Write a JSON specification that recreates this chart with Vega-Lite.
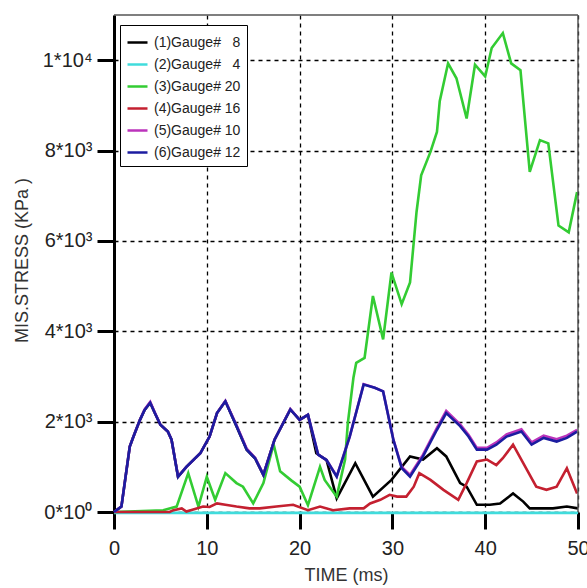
{
  "$schema": "https://vega.github.io/schema/vega-lite/v6.json",
  "width": 464,
  "height": 497,
  "autosize": {"type": "none"},
  "padding": {"left": 114, "top": 15, "right": 9, "bottom": 76},
  "background": "white",
  "config": {"view": {"stroke": null}, "font": "Liberation Sans"},
  "layer": [
    {
      "data": {"values": [
        {"g": "(1)Gauge# \u20078", "t": 0, "v": 0}, {"g": "(1)Gauge# \u20078", "t": 0.8, "v": 120}, {"g": "(1)Gauge# \u20078", "t": 1.2, "v": 710}, {"g": "(1)Gauge# \u20078", "t": 1.7, "v": 1450}, {"g": "(1)Gauge# \u20078", "t": 2.1, "v": 1670}, {"g": "(1)Gauge# \u20078", "t": 2.8, "v": 2040}, {"g": "(1)Gauge# \u20078", "t": 3.3, "v": 2260}, {"g": "(1)Gauge# \u20078", "t": 3.9, "v": 2420}, {"g": "(1)Gauge# \u20078", "t": 4.4, "v": 2190}, {"g": "(1)Gauge# \u20078", "t": 5.0, "v": 1930}, {"g": "(1)Gauge# \u20078", "t": 5.8, "v": 1780}, {"g": "(1)Gauge# \u20078", "t": 6.2, "v": 1600}, {"g": "(1)Gauge# \u20078", "t": 6.9, "v": 780}, {"g": "(1)Gauge# \u20078", "t": 7.8, "v": 1000}, {"g": "(1)Gauge# \u20078", "t": 9.3, "v": 1300}, {"g": "(1)Gauge# \u20078", "t": 10.3, "v": 1670}, {"g": "(1)Gauge# \u20078", "t": 11.1, "v": 2190}, {"g": "(1)Gauge# \u20078", "t": 12.0, "v": 2450}, {"g": "(1)Gauge# \u20078", "t": 13.2, "v": 1900}, {"g": "(1)Gauge# \u20078", "t": 14.3, "v": 1380}, {"g": "(1)Gauge# \u20078", "t": 15.2, "v": 1190}, {"g": "(1)Gauge# \u20078", "t": 16.1, "v": 820}, {"g": "(1)Gauge# \u20078", "t": 17.3, "v": 1600}, {"g": "(1)Gauge# \u20078", "t": 19.0, "v": 2270}, {"g": "(1)Gauge# \u20078", "t": 20.0, "v": 2040}, {"g": "(1)Gauge# \u20078", "t": 20.9, "v": 2150}, {"g": "(1)Gauge# \u20078", "t": 21.8, "v": 1300}, {"g": "(1)Gauge# \u20078", "t": 22.9, "v": 1150}, {"g": "(1)Gauge# \u20078", "t": 24.0, "v": 300}, {"g": "(1)Gauge# \u20078", "t": 26.0, "v": 1080}, {"g": "(1)Gauge# \u20078", "t": 27.9, "v": 340}, {"g": "(1)Gauge# \u20078", "t": 29.9, "v": 710}, {"g": "(1)Gauge# \u20078", "t": 31.9, "v": 1230}, {"g": "(1)Gauge# \u20078", "t": 33.3, "v": 1160}, {"g": "(1)Gauge# \u20078", "t": 34.8, "v": 1410}, {"g": "(1)Gauge# \u20078", "t": 35.8, "v": 1230}, {"g": "(1)Gauge# \u20078", "t": 37.3, "v": 640}, {"g": "(1)Gauge# \u20078", "t": 38.0, "v": 560}, {"g": "(1)Gauge# \u20078", "t": 39.1, "v": 160}, {"g": "(1)Gauge# \u20078", "t": 40.5, "v": 160}, {"g": "(1)Gauge# \u20078", "t": 41.6, "v": 190}, {"g": "(1)Gauge# \u20078", "t": 43.0, "v": 410}, {"g": "(1)Gauge# \u20078", "t": 44.1, "v": 230}, {"g": "(1)Gauge# \u20078", "t": 44.8, "v": 80}, {"g": "(1)Gauge# \u20078", "t": 47.3, "v": 80}, {"g": "(1)Gauge# \u20078", "t": 48.8, "v": 120}, {"g": "(1)Gauge# \u20078", "t": 50, "v": 80},
        {"g": "(2)Gauge# \u20074", "t": 0, "v": -20}, {"g": "(2)Gauge# \u20074", "t": 10, "v": -20}, {"g": "(2)Gauge# \u20074", "t": 20, "v": -20}, {"g": "(2)Gauge# \u20074", "t": 30, "v": -20}, {"g": "(2)Gauge# \u20074", "t": 40, "v": -20}, {"g": "(2)Gauge# \u20074", "t": 50, "v": -20},
        {"g": "(3)Gauge# 20", "t": 0, "v": 0}, {"g": "(3)Gauge# 20", "t": 5.3, "v": 40}, {"g": "(3)Gauge# 20", "t": 6.75, "v": 120}, {"g": "(3)Gauge# 20", "t": 8.0, "v": 860}, {"g": "(3)Gauge# 20", "t": 9.1, "v": 120}, {"g": "(3)Gauge# 20", "t": 10.0, "v": 780}, {"g": "(3)Gauge# 20", "t": 10.9, "v": 270}, {"g": "(3)Gauge# 20", "t": 12.0, "v": 860}, {"g": "(3)Gauge# 20", "t": 13.2, "v": 640}, {"g": "(3)Gauge# 20", "t": 13.9, "v": 560}, {"g": "(3)Gauge# 20", "t": 15.0, "v": 190}, {"g": "(3)Gauge# 20", "t": 16.1, "v": 640}, {"g": "(3)Gauge# 20", "t": 17.2, "v": 1500}, {"g": "(3)Gauge# 20", "t": 17.9, "v": 900}, {"g": "(3)Gauge# 20", "t": 19.1, "v": 700}, {"g": "(3)Gauge# 20", "t": 20.0, "v": 560}, {"g": "(3)Gauge# 20", "t": 20.9, "v": 150}, {"g": "(3)Gauge# 20", "t": 22.2, "v": 1000}, {"g": "(3)Gauge# 20", "t": 22.7, "v": 710}, {"g": "(3)Gauge# 20", "t": 24.0, "v": 340}, {"g": "(3)Gauge# 20", "t": 24.9, "v": 1160}, {"g": "(3)Gauge# 20", "t": 25.2, "v": 1970}, {"g": "(3)Gauge# 20", "t": 25.8, "v": 2970}, {"g": "(3)Gauge# 20", "t": 26.1, "v": 3300}, {"g": "(3)Gauge# 20", "t": 27.0, "v": 3410}, {"g": "(3)Gauge# 20", "t": 27.9, "v": 4780}, {"g": "(3)Gauge# 20", "t": 29.0, "v": 3820}, {"g": "(3)Gauge# 20", "t": 29.9, "v": 5300}, {"g": "(3)Gauge# 20", "t": 31.0, "v": 4600}, {"g": "(3)Gauge# 20", "t": 31.9, "v": 5080}, {"g": "(3)Gauge# 20", "t": 32.6, "v": 6640}, {"g": "(3)Gauge# 20", "t": 33.1, "v": 7450}, {"g": "(3)Gauge# 20", "t": 34.1, "v": 7970}, {"g": "(3)Gauge# 20", "t": 34.8, "v": 8410}, {"g": "(3)Gauge# 20", "t": 35.1, "v": 9090}, {"g": "(3)Gauge# 20", "t": 36.0, "v": 9930}, {"g": "(3)Gauge# 20", "t": 36.9, "v": 9600}, {"g": "(3)Gauge# 20", "t": 38.0, "v": 8710}, {"g": "(3)Gauge# 20", "t": 38.9, "v": 9900}, {"g": "(3)Gauge# 20", "t": 40.0, "v": 9640}, {"g": "(3)Gauge# 20", "t": 40.7, "v": 10270}, {"g": "(3)Gauge# 20", "t": 41.9, "v": 10600}, {"g": "(3)Gauge# 20", "t": 42.8, "v": 9930}, {"g": "(3)Gauge# 20", "t": 43.8, "v": 9780}, {"g": "(3)Gauge# 20", "t": 44.8, "v": 7530}, {"g": "(3)Gauge# 20", "t": 45.9, "v": 8230}, {"g": "(3)Gauge# 20", "t": 46.8, "v": 8160}, {"g": "(3)Gauge# 20", "t": 47.9, "v": 6340}, {"g": "(3)Gauge# 20", "t": 49.0, "v": 6190}, {"g": "(3)Gauge# 20", "t": 49.9, "v": 7080},
        {"g": "(4)Gauge# 16", "t": 0, "v": 0}, {"g": "(4)Gauge# 16", "t": 6.0, "v": 0}, {"g": "(4)Gauge# 16", "t": 6.4, "v": 40}, {"g": "(4)Gauge# 16", "t": 7.3, "v": 80}, {"g": "(4)Gauge# 16", "t": 7.8, "v": 10}, {"g": "(4)Gauge# 16", "t": 8.9, "v": 80}, {"g": "(4)Gauge# 16", "t": 9.6, "v": 120}, {"g": "(4)Gauge# 16", "t": 10.3, "v": 110}, {"g": "(4)Gauge# 16", "t": 11.1, "v": 190}, {"g": "(4)Gauge# 16", "t": 12.0, "v": 160}, {"g": "(4)Gauge# 16", "t": 13.2, "v": 120}, {"g": "(4)Gauge# 16", "t": 14.6, "v": 80}, {"g": "(4)Gauge# 16", "t": 15.7, "v": 80}, {"g": "(4)Gauge# 16", "t": 17.5, "v": 120}, {"g": "(4)Gauge# 16", "t": 19.3, "v": 160}, {"g": "(4)Gauge# 16", "t": 20.9, "v": 40}, {"g": "(4)Gauge# 16", "t": 22.2, "v": 120}, {"g": "(4)Gauge# 16", "t": 23.6, "v": 40}, {"g": "(4)Gauge# 16", "t": 25.4, "v": 80}, {"g": "(4)Gauge# 16", "t": 26.9, "v": 80}, {"g": "(4)Gauge# 16", "t": 27.6, "v": 190}, {"g": "(4)Gauge# 16", "t": 28.7, "v": 270}, {"g": "(4)Gauge# 16", "t": 29.7, "v": 380}, {"g": "(4)Gauge# 16", "t": 30.5, "v": 340}, {"g": "(4)Gauge# 16", "t": 31.5, "v": 340}, {"g": "(4)Gauge# 16", "t": 32.3, "v": 560}, {"g": "(4)Gauge# 16", "t": 32.9, "v": 860}, {"g": "(4)Gauge# 16", "t": 34.1, "v": 710}, {"g": "(4)Gauge# 16", "t": 35.5, "v": 490}, {"g": "(4)Gauge# 16", "t": 37.1, "v": 270}, {"g": "(4)Gauge# 16", "t": 38.0, "v": 640}, {"g": "(4)Gauge# 16", "t": 39.1, "v": 1120}, {"g": "(4)Gauge# 16", "t": 40.2, "v": 1160}, {"g": "(4)Gauge# 16", "t": 41.2, "v": 1040}, {"g": "(4)Gauge# 16", "t": 41.9, "v": 1190}, {"g": "(4)Gauge# 16", "t": 43.0, "v": 1490}, {"g": "(4)Gauge# 16", "t": 44.1, "v": 1080}, {"g": "(4)Gauge# 16", "t": 45.5, "v": 560}, {"g": "(4)Gauge# 16", "t": 46.6, "v": 490}, {"g": "(4)Gauge# 16", "t": 47.7, "v": 560}, {"g": "(4)Gauge# 16", "t": 48.8, "v": 970}, {"g": "(4)Gauge# 16", "t": 49.9, "v": 410},
        {"g": "(5)Gauge# 10", "t": 0, "v": 0}, {"g": "(5)Gauge# 10", "t": 0.8, "v": 120}, {"g": "(5)Gauge# 10", "t": 1.2, "v": 710}, {"g": "(5)Gauge# 10", "t": 1.7, "v": 1450}, {"g": "(5)Gauge# 10", "t": 2.1, "v": 1670}, {"g": "(5)Gauge# 10", "t": 2.8, "v": 2040}, {"g": "(5)Gauge# 10", "t": 3.3, "v": 2270}, {"g": "(5)Gauge# 10", "t": 3.9, "v": 2440}, {"g": "(5)Gauge# 10", "t": 4.4, "v": 2200}, {"g": "(5)Gauge# 10", "t": 5.0, "v": 1930}, {"g": "(5)Gauge# 10", "t": 5.8, "v": 1780}, {"g": "(5)Gauge# 10", "t": 6.2, "v": 1600}, {"g": "(5)Gauge# 10", "t": 6.9, "v": 790}, {"g": "(5)Gauge# 10", "t": 7.8, "v": 1000}, {"g": "(5)Gauge# 10", "t": 9.3, "v": 1300}, {"g": "(5)Gauge# 10", "t": 10.3, "v": 1670}, {"g": "(5)Gauge# 10", "t": 11.1, "v": 2190}, {"g": "(5)Gauge# 10", "t": 12.0, "v": 2460}, {"g": "(5)Gauge# 10", "t": 13.2, "v": 1920}, {"g": "(5)Gauge# 10", "t": 14.3, "v": 1400}, {"g": "(5)Gauge# 10", "t": 15.2, "v": 1200}, {"g": "(5)Gauge# 10", "t": 16.1, "v": 830}, {"g": "(5)Gauge# 10", "t": 17.3, "v": 1600}, {"g": "(5)Gauge# 10", "t": 19.0, "v": 2280}, {"g": "(5)Gauge# 10", "t": 20.0, "v": 2040}, {"g": "(5)Gauge# 10", "t": 20.9, "v": 2150}, {"g": "(5)Gauge# 10", "t": 22.0, "v": 1270}, {"g": "(5)Gauge# 10", "t": 22.9, "v": 1150}, {"g": "(5)Gauge# 10", "t": 24.0, "v": 790}, {"g": "(5)Gauge# 10", "t": 25.4, "v": 1670}, {"g": "(5)Gauge# 10", "t": 26.9, "v": 2830}, {"g": "(5)Gauge# 10", "t": 28.1, "v": 2750}, {"g": "(5)Gauge# 10", "t": 29.0, "v": 2670}, {"g": "(5)Gauge# 10", "t": 30.1, "v": 1610}, {"g": "(5)Gauge# 10", "t": 31.0, "v": 1000}, {"g": "(5)Gauge# 10", "t": 31.9, "v": 820}, {"g": "(5)Gauge# 10", "t": 33.3, "v": 1270}, {"g": "(5)Gauge# 10", "t": 34.8, "v": 1860}, {"g": "(5)Gauge# 10", "t": 35.8, "v": 2240}, {"g": "(5)Gauge# 10", "t": 37.3, "v": 1940}, {"g": "(5)Gauge# 10", "t": 38.2, "v": 1710}, {"g": "(5)Gauge# 10", "t": 39.1, "v": 1420}, {"g": "(5)Gauge# 10", "t": 40.2, "v": 1420}, {"g": "(5)Gauge# 10", "t": 41.2, "v": 1540}, {"g": "(5)Gauge# 10", "t": 42.3, "v": 1720}, {"g": "(5)Gauge# 10", "t": 43.9, "v": 1830}, {"g": "(5)Gauge# 10", "t": 45.0, "v": 1540}, {"g": "(5)Gauge# 10", "t": 46.3, "v": 1690}, {"g": "(5)Gauge# 10", "t": 47.7, "v": 1610}, {"g": "(5)Gauge# 10", "t": 48.8, "v": 1690}, {"g": "(5)Gauge# 10", "t": 49.9, "v": 1820},
        {"g": "(6)Gauge# 12", "t": 0, "v": 0}, {"g": "(6)Gauge# 12", "t": 0.8, "v": 120}, {"g": "(6)Gauge# 12", "t": 1.2, "v": 710}, {"g": "(6)Gauge# 12", "t": 1.7, "v": 1450}, {"g": "(6)Gauge# 12", "t": 2.1, "v": 1670}, {"g": "(6)Gauge# 12", "t": 2.8, "v": 2040}, {"g": "(6)Gauge# 12", "t": 3.3, "v": 2260}, {"g": "(6)Gauge# 12", "t": 3.9, "v": 2420}, {"g": "(6)Gauge# 12", "t": 4.4, "v": 2190}, {"g": "(6)Gauge# 12", "t": 5.0, "v": 1930}, {"g": "(6)Gauge# 12", "t": 5.8, "v": 1780}, {"g": "(6)Gauge# 12", "t": 6.2, "v": 1600}, {"g": "(6)Gauge# 12", "t": 6.9, "v": 780}, {"g": "(6)Gauge# 12", "t": 7.8, "v": 1000}, {"g": "(6)Gauge# 12", "t": 9.3, "v": 1300}, {"g": "(6)Gauge# 12", "t": 10.3, "v": 1670}, {"g": "(6)Gauge# 12", "t": 11.1, "v": 2190}, {"g": "(6)Gauge# 12", "t": 12.0, "v": 2450}, {"g": "(6)Gauge# 12", "t": 13.2, "v": 1900}, {"g": "(6)Gauge# 12", "t": 14.3, "v": 1380}, {"g": "(6)Gauge# 12", "t": 15.2, "v": 1190}, {"g": "(6)Gauge# 12", "t": 16.1, "v": 820}, {"g": "(6)Gauge# 12", "t": 17.3, "v": 1600}, {"g": "(6)Gauge# 12", "t": 19.0, "v": 2270}, {"g": "(6)Gauge# 12", "t": 20.0, "v": 2040}, {"g": "(6)Gauge# 12", "t": 20.9, "v": 2150}, {"g": "(6)Gauge# 12", "t": 22.0, "v": 1270}, {"g": "(6)Gauge# 12", "t": 22.9, "v": 1150}, {"g": "(6)Gauge# 12", "t": 24.0, "v": 780}, {"g": "(6)Gauge# 12", "t": 25.4, "v": 1670}, {"g": "(6)Gauge# 12", "t": 26.9, "v": 2820}, {"g": "(6)Gauge# 12", "t": 28.1, "v": 2750}, {"g": "(6)Gauge# 12", "t": 29.0, "v": 2670}, {"g": "(6)Gauge# 12", "t": 30.1, "v": 1600}, {"g": "(6)Gauge# 12", "t": 31.0, "v": 970}, {"g": "(6)Gauge# 12", "t": 31.9, "v": 780}, {"g": "(6)Gauge# 12", "t": 33.3, "v": 1230}, {"g": "(6)Gauge# 12", "t": 34.8, "v": 1820}, {"g": "(6)Gauge# 12", "t": 35.8, "v": 2190}, {"g": "(6)Gauge# 12", "t": 37.3, "v": 1900}, {"g": "(6)Gauge# 12", "t": 38.2, "v": 1670}, {"g": "(6)Gauge# 12", "t": 39.1, "v": 1380}, {"g": "(6)Gauge# 12", "t": 40.2, "v": 1380}, {"g": "(6)Gauge# 12", "t": 41.2, "v": 1490}, {"g": "(6)Gauge# 12", "t": 42.3, "v": 1670}, {"g": "(6)Gauge# 12", "t": 43.9, "v": 1780}, {"g": "(6)Gauge# 12", "t": 45.0, "v": 1490}, {"g": "(6)Gauge# 12", "t": 46.3, "v": 1640}, {"g": "(6)Gauge# 12", "t": 47.7, "v": 1560}, {"g": "(6)Gauge# 12", "t": 48.8, "v": 1640}, {"g": "(6)Gauge# 12", "t": 49.9, "v": 1780}
      ]},
      "mark": {"type": "line", "strokeWidth": 2.6, "clip": false},
      "encoding": {
        "x": {
          "field": "t", "type": "quantitative",
          "scale": {"domain": [0, 50], "nice": false, "zero": false},
          "axis": {
            "title": "TIME (ms)", "titleFont": "Liberation Sans", "titleFontSize": 18, "titleFontWeight": "normal", "titleColor": "#333", "titlePadding": 8,
            "values": [0, 10, 20, 30, 40, 50], "format": "d",
            "labelFont": "Liberation Sans", "labelFontSize": 20, "labelColor": "#222", "labelPadding": 9, "labelFlush": false, "labelOverlap": false,
            "domain": false, "ticks": true, "tickColor": "black", "tickWidth": 3, "tickSize": 17,
            "grid": true, "gridColor": "black", "gridDash": [4, 4], "gridWidth": 1.3, "gridOpacity": 1
          }
        },
        "y": {
          "field": "v", "type": "quantitative",
          "scale": {"domain": [0, 11000], "nice": false, "zero": false},
          "axis": {
            "title": "MIS.STRESS (KPa )", "titleFont": "Liberation Sans", "titleFontSize": 18, "titleFontWeight": "normal", "titleColor": "#333",
            "titleX": -87, "titleY": 245, "titleBaseline": "alphabetic", "titleAlign": "center", "titleAngle": -90,
            "values": [0, 2000, 4000, 6000, 8000, 10000],
            "labelExpr": "datum.value == 0 ? '0*10⁰' : (datum.value >= 10000 ? '1*10⁴' : (datum.value / 1000) + '*10³')",
            "labelFont": "Liberation Sans", "labelFontSize": 20, "labelColor": "#222", "labelPadding": 5, "labelOverlap": false, "labelFlush": false,
            "domain": true, "domainColor": "black", "domainWidth": 3,
            "ticks": true, "tickColor": "black", "tickWidth": 3, "tickSize": 17,
            "grid": true, "gridColor": "black", "gridDash": [4, 4], "gridWidth": 1.3, "gridOpacity": 1
          }
        },
        "color": {
          "field": "g", "type": "nominal",
          "scale": {
            "domain": ["(1)Gauge# \u20078", "(2)Gauge# \u20074", "(3)Gauge# 20", "(4)Gauge# 16", "(5)Gauge# 10", "(6)Gauge# 12"],
            "range": ["#000000", "#40dcdc", "#33cc33", "#c42030", "#bb33bb", "#1c1ca0"]
          },
          "legend": {
            "title": null, "orient": "none", "legendX": 6, "legendY": 10,
            "symbolType": "stroke", "symbolSize": 400, "symbolStrokeWidth": 2.5,
            "labelFont": "Liberation Sans", "labelFontSize": 14, "labelColor": "#222", "labelOffset": 5, "labelLimit": 300,
            "rowPadding": 3, "padding": 6, "fillColor": "white", "strokeColor": "black"
          }
        }
      }
    },
    {
      "data": {"values": [{}]},
      "mark": {"type": "rule", "color": "#555", "strokeWidth": 1.5},
      "encoding": {"y": {"datum": 11000}}
    },
    {
      "data": {"values": [{}]},
      "mark": {"type": "rule", "color": "#555", "strokeWidth": 1.5},
      "encoding": {"x": {"datum": 50}}
    }
  ]
}
